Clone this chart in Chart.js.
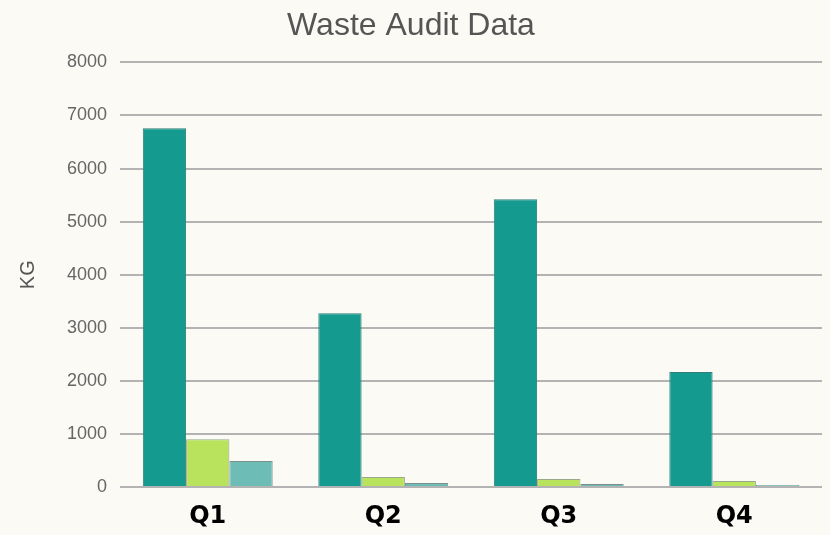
<!DOCTYPE html>
<html>
<head>
<meta charset="utf-8">
<script src="https://cdn.jsdelivr.net/npm/chart.js@4/dist/chart.umd.min.js"></script>
<style>
  html, body { margin: 0; padding: 0; background: #fbfaf5; }
  #wrap { width: 830px; height: 535px; }
</style>
</head>
<body>
<div id="wrap"><canvas id="wasteChart"></canvas></div>
<script>
// Valores (KG por trimestre)
const quarters = ['Q1', 'Q2', 'Q3', 'Q4'];
const seriesA = [6760, 3275, 5420, 2165];
const seriesB = [900, 190, 150, 115];
const seriesC = [490, 75, 55, 40];

const ctx = document.getElementById('wasteChart');

const wasteChart = new Chart(ctx, {
    type: 'bar',
    data: {
        labels: quarters,
        datasets: [
            {
                label: 'A',
                data: seriesA,
                backgroundColor: '#149a8f',
                borderColor: '#2f7f78',
                borderWidth: 1
            },
            {
                label: 'B',
                data: seriesB,
                backgroundColor: '#b9e35c',
                borderColor: '#98a889',
                borderWidth: 1
            },
            {
                label: 'C',
                data: seriesC,
                backgroundColor: '#6dbdb6',
                borderColor: '#7d8f8d',
                borderWidth: 1
            }
        ]
    },
    options: {
        responsive: true,
        maintainAspectRatio: false,
        animation: false,
        layout: {
            padding: { left: 0, right: 8, top: 0, bottom: 0 }
        },
        datasets: {
            bar: {
                categoryPercentage: 0.74,
                barPercentage: 1.0
            }
        },
        scales: {
            x: {
                afterFit: (scale) => { scale.height = 48; },
                grid: { display: false },
                border: { display: false },
                ticks: {
                    color: '#000',
                    font: { family: 'DejaVu Sans', size: 24, weight: 'bold' },
                    padding: 7
                }
            },
            y: {
                min: 0,
                max: 8000,
                afterFit: (scale) => { scale.width = 120; },
                ticks: {
                    stepSize: 1000,
                    color: '#666',
                    font: { family: 'Liberation Sans', size: 18 },
                    padding: 13,
                    callback: (value) => String(value)
                },
                grid: {
                    color: '#b3b3b3',
                    lineWidth: 2,
                    drawTicks: false
                },
                border: { display: false },
                title: {
                    display: true,
                    text: 'KG',
                    color: '#555',
                    font: { family: 'Liberation Sans', size: 20 },
                    padding: { top: 16, bottom: 0 }
                }
            }
        },
        plugins: {
            legend: { display: false },
            tooltip: { enabled: false },
            title: {
                display: true,
                text: 'Waste Audit Data',
                color: '#555',
                font: { family: 'Liberation Sans', size: 32, weight: 'normal' },
                padding: { top: 7, bottom: 17 }
            }
        }
    }
});
</script>
</body>
</html>
